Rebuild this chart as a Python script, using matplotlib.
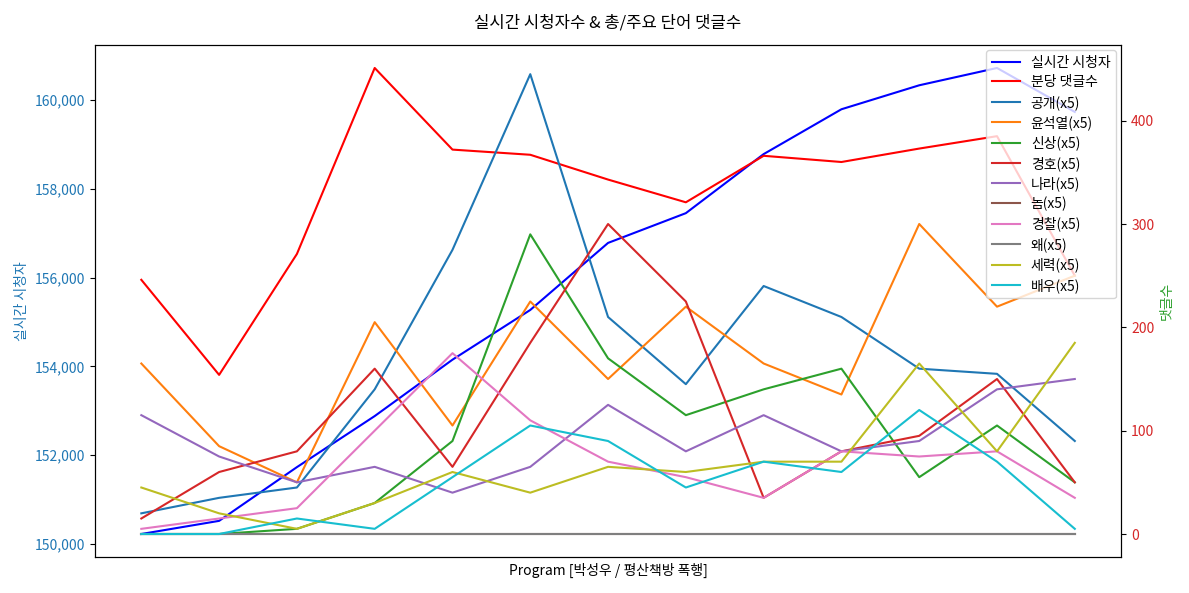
import numpy as np
import matplotlib
matplotlib.use('Agg')
import matplotlib.pyplot as plt
from matplotlib.ticker import FuncFormatter

plt.rcParams['font.family'] = ['Noto Sans CJK KR', 'DejaVu Sans']
plt.rcParams['axes.unicode_minus'] = False

# 실시간 시청자 (왼쪽 축)
viewers = [150224, 150520, 151730, 152880, 154150, 155270, 156780,
           157450, 158780, 159790, 160330, 160720, 159730]
# 분당 댓글수 (오른쪽 축)
comments = [246, 154, 271, 451, 372, 367, 343, 321, 366, 360, 373, 385, 250]

# 주요 단어 댓글수 (x5)
words = ['공개', '윤석열', '신상', '경호', '나라', '놈', '경찰', '왜', '세력', '배우']
word_counts = [
    [20, 35, 45, 140, 275, 445, 210, 145, 240, 210, 160, 155, 90],
    [165, 85, 50, 205, 105, 225, 150, 220, 165, 135, 300, 220, 250],
    [0, 0, 5, 30, 90, 290, 170, 115, 140, 160, 55, 105, 50],
    [15, 60, 80, 160, 65, 185, 300, 225, 35, 80, 95, 150, 50],
    [115, 75, 50, 65, 40, 65, 125, 80, 115, 80, 90, 140, 150],
    [0, 0, 0, 0, 0, 0, 0, 0, 0, 0, 0, 0, 0],
    [5, 15, 25, 100, 175, 110, 70, 55, 35, 80, 75, 80, 35],
    [0, 0, 0, 0, 0, 0, 0, 0, 0, 0, 0, 0, 0],
    [45, 20, 5, 30, 60, 40, 65, 60, 70, 70, 165, 80, 185],
    [0, 0, 15, 5, 55, 105, 90, 45, 70, 60, 120, 70, 5],
]
word_colors = ['tab:blue', 'tab:orange', 'tab:green', 'tab:red', 'tab:purple',
               'tab:brown', 'tab:pink', 'tab:gray', 'tab:olive', 'tab:cyan']

x = np.arange(len(viewers))

fig, ax1 = plt.subplots(figsize=(11.89, 5.93), dpi=100)
l1, = ax1.plot(x, viewers, color='blue', label='실시간 시청자')
ax1.set_ylabel('실시간 시청자', color='tab:blue')
ax1.tick_params(axis='y', labelcolor='tab:blue')
ax1.yaxis.set_major_formatter(FuncFormatter(lambda v, p: f'{int(v):,}'))
ax1.set_xticks([])
ax1.set_xlabel('Program [박성우 / 평산책방 폭행]')

ax2 = ax1.twinx()
lines = [l1]
l2, = ax2.plot(x, comments, color='red', label='분당 댓글수')
lines.append(l2)
for w, vals, c in zip(words, word_counts, word_colors):
    ln, = ax2.plot(x, vals, color=c, label=f'{w}(x5)')
    lines.append(ln)
ax2.set_ylabel('댓글수', color='tab:green')
ax2.tick_params(axis='y', labelcolor='tab:red')

ax2.legend(lines, [l.get_label() for l in lines], loc='upper right',
           labelspacing=0.4, borderaxespad=0.4)
plt.title('실시간 시청자수 & 총/주요 단어 댓글수', pad=12)
fig.tight_layout()
fig.savefig('out.png')
